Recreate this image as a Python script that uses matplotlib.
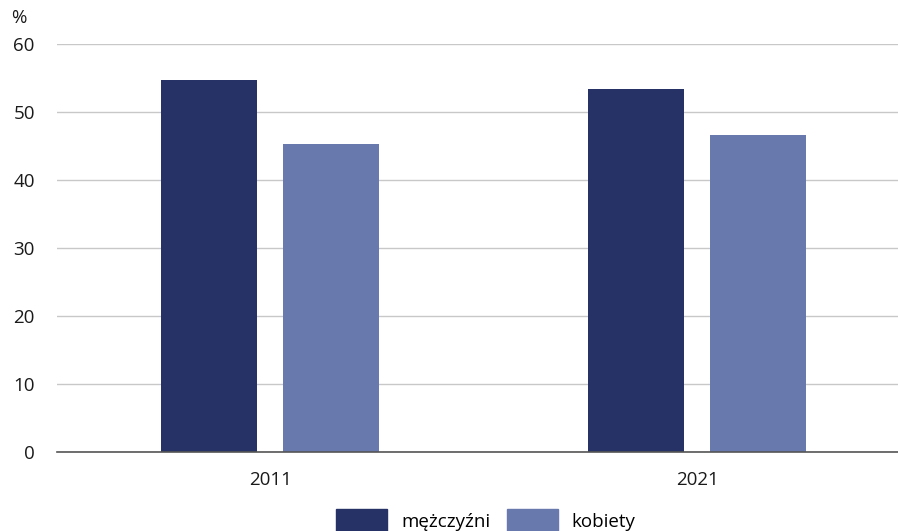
import numpy as np
import matplotlib.pyplot as plt
from matplotlib.patches import Patch

plt.rcParams['font.family'] = ['Open Sans', 'DejaVu Sans']

years = ['2011', '2021']
series = ['mężczyźni', 'kobiety']
men = [54.7, 53.4]
women = [45.3, 46.6]
colors = ['#263265', '#6879ad']

fig = plt.figure(figsize=(8.98, 5.31), dpi=100)
ax = fig.add_axes([57/898, 1-452/531, 1-57/898, (452-44)/531])

x = np.arange(len(years))
w = 0.225
ax.bar(x - 0.143, men, w, color=colors[0], zorder=3)
ax.bar(x + 0.142, women, w, color=colors[1], zorder=3)

ax.set_ylim(0, 60)
ax.set_xlim(-0.499, 1.47)
ax.set_yticks(range(0, 61, 10))
ax.set_xticks(x)
ax.set_xticklabels(years)
ax.yaxis.grid(True, color='#c8c8c8', linewidth=1, zorder=0)
for s in ['top', 'right', 'left']:
    ax.spines[s].set_visible(False)
ax.spines['bottom'].set_color('#555555')
ax.spines['bottom'].set_linewidth(1.2)
ax.spines['bottom'].set_zorder(4)
ax.tick_params(axis='y', length=0, pad=16, labelsize=13.5, labelcolor='#1a1a1a')
ax.tick_params(axis='x', length=0, pad=14, labelsize=13.5, labelcolor='#1a1a1a')

fig.text(11/898, 1-18/531, '%', fontsize=13.5, va='center', ha='left', color='#1a1a1a')

handles = [Patch(color=c) for c in colors]
fig.legend(handles, series, loc='upper center', bbox_to_anchor=(0.541, 1-509/531),
           ncol=2, frameon=False, fontsize=13.5, handlelength=2.7, handleheight=1.6,
           handletextpad=0.75, columnspacing=0.9, borderaxespad=0, borderpad=0)

fig.savefig('out.png', dpi=100)
